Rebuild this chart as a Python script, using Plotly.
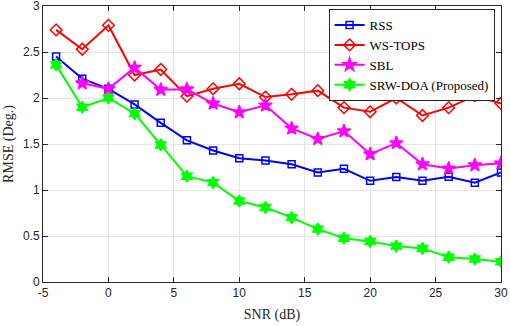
import plotly.graph_objects as go

snr = [-4, -2, 0, 2, 4, 6, 8, 10, 12, 14, 16, 18, 20, 22, 24, 26, 28, 30]
rss = [2.45, 2.21, 2.10, 1.93, 1.73, 1.54, 1.43, 1.345, 1.32, 1.28, 1.19, 1.23, 1.10, 1.14, 1.10, 1.145, 1.08, 1.19]
ws_tops = [2.74, 2.53, 2.79, 2.25, 2.31, 2.02, 2.10, 2.155, 2.01, 2.04, 2.08, 1.895, 1.85, 2.00, 1.81, 1.895, 2.025, 1.94]
sbl = [None, 2.16, 2.10, 2.33, 2.09, 2.095, 1.94, 1.845, 1.92, 1.67, 1.555, 1.64, 1.39, 1.51, 1.28, 1.235, 1.27, 1.29]
srw_doa = [2.36, 1.90, 2.00, 1.83, 1.49, 1.15, 1.08, 0.88, 0.81, 0.70, 0.575, 0.475, 0.44, 0.39, 0.365, 0.27, 0.25, 0.22]

x_ticks = [-5, 0, 5, 10, 15, 20, 25, 30]
x_labels = ["-5", "0", "5", "10", "15", "20", "25", "30"]
y_ticks = [0, 0.5, 1, 1.5, 2, 2.5, 3]
y_labels = ["0", "0.5", "1", "1.5", "2", "2.5", "3"]

series = [
    ("RSS", rss, "#0000ff", "square-open", 7),
    ("WS-TOPS", ws_tops, "#ff0000", "diamond-open", 9),
    ("SBL", sbl, "#ff00ff", "star", 10),
    ("SRW-DOA (Proposed)", srw_doa, "#00ff00", "hexagram", 9),
]

fig = go.Figure()
for name, vals, color, sym, size in series:
    fig.add_trace(go.Scatter(
        x=snr, y=vals, name=name, mode="lines+markers",
        line=dict(color=color, width=2),
        marker=dict(symbol=sym, size=size, color=color,
                    line=dict(color=color, width=1.5)),
        connectgaps=False,
    ))

axis_common = dict(
    showgrid=True, gridcolor="#e5e5e5", gridwidth=1,
    showline=True, linecolor="#262626", linewidth=1,
    mirror="ticks", ticks="inside", ticklen=5, tickcolor="#262626",
    tickfont=dict(family="Liberation Sans, Arial", size=12, color="#262626"),
    zeroline=False, automargin=False, ticklabeloverflow="allow",
)

fig.update_layout(
    width=510, height=326,
    margin=dict(l=43, r=9, t=6, b=44),
    paper_bgcolor="white", plot_bgcolor="white",
    xaxis=dict(range=[-5, 30], tickvals=x_ticks, ticktext=x_labels,
               title=dict(text="SNR (dB)", standoff=9,
                          font=dict(family="Liberation Serif, Times New Roman", size=14, color="#262626")),
               **axis_common),
    yaxis=dict(range=[0, 3], tickvals=y_ticks, ticktext=y_labels,
               title=dict(text="RMSE (Deg.)", standoff=6,
                          font=dict(family="Liberation Serif, Times New Roman", size=14, color="#262626")),
               **axis_common),
    legend=dict(x=0.986, y=0.989, xanchor="right", yanchor="top",
                bgcolor="white", bordercolor="#262626", borderwidth=1,
                font=dict(family="Liberation Serif, Times New Roman", size=13, color="#000000"),
                itemwidth=30, tracegroupgap=0),
)

fig.write_html("out.html", config={"displayModeBar": False},
               post_script="document.body.style.margin='0px';")
